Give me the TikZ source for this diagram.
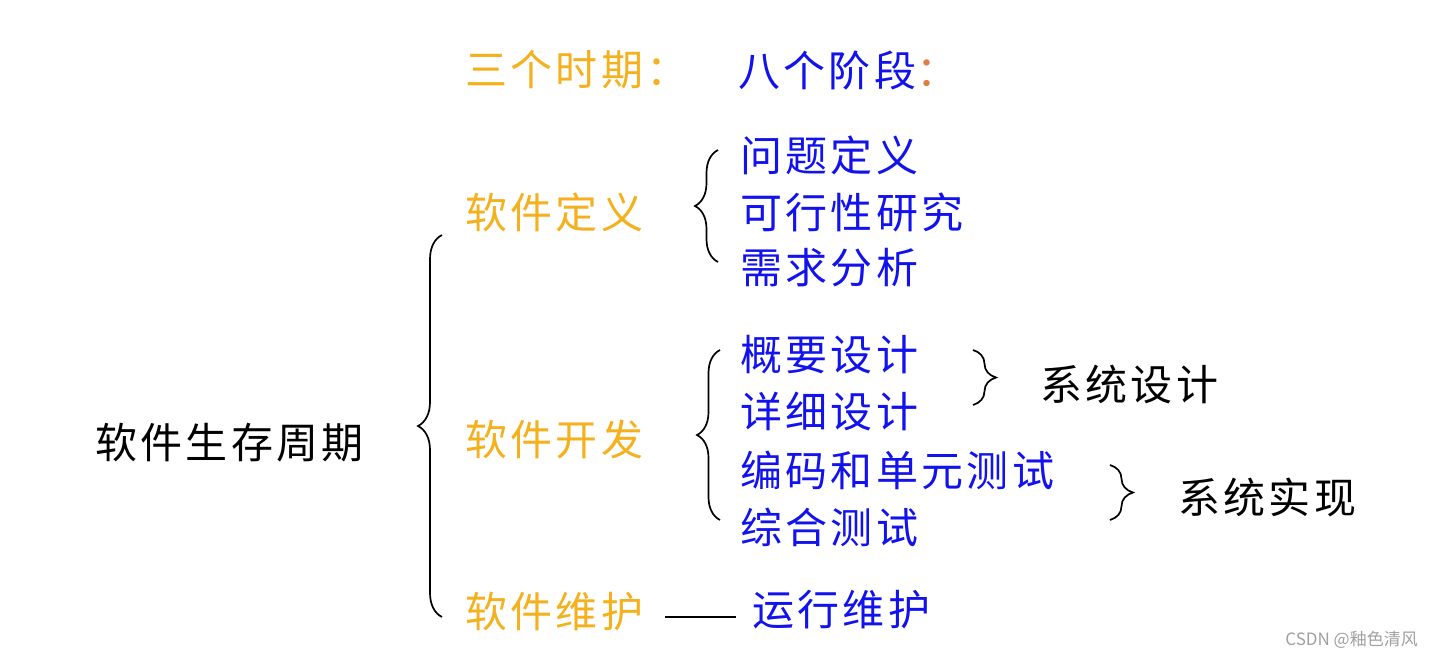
\documentclass[tikz,border=0pt]{standalone}
\usepackage{fontspec}
\setmainfont{Noto Sans CJK SC}
\newfontfamily\cjkwide[LetterSpace=8]{Noto Sans CJK SC}
\usetikzlibrary{decorations.pathreplacing}
\definecolor{qorange}{HTML}{F5B01E}
\definecolor{qblue}{HTML}{1212EE}
\definecolor{qcolon}{HTML}{DE7E45}
\definecolor{qgray}{HTML}{A0A0A0}
\begin{document}
\begin{tikzpicture}[x=1pt,y=-1pt,
  lbl/.style={anchor=west,inner sep=0pt,font=\cjkwide\fontsize{42}{50}\selectfont},
  period/.style={lbl,text=qorange},
  stage/.style={lbl,text=qblue},
  plain/.style={lbl,text=black},
  brc/.style={draw=black,line width=1.7pt,decorate,decoration={brace,amplitude=#1}},
  brc/.default=23pt
]
\useasboundingbox (0,0) rectangle (1434,658);
% headings
\node[period] (sgsq) at (465,70) {三个时期：};
\node[stage] (bgjd) at (738,70) {八个阶段{\color{qcolon}：}};
% root
\node[plain] (root) at (95,443) {软件生存周期};
% periods
\node[period] (rjdy) at (465,212) {软件定义};
\node[period] (rjkf) at (465,440) {软件开发};
\node[period] (rjwh) at (465,612) {软件维护};
% stages
\node[stage] (wtdy) at (740,155) {问题定义};
\node[stage] (kxx)  at (740,212) {可行性研究};
\node[stage] (xqfx) at (740,268) {需求分析};
\node[stage] (gysj) at (740,355) {概要设计};
\node[stage] (xxsj) at (740,412) {详细设计};
\node[stage] (bmcs) at (740,470) {编码和单元测试};
\node[stage] (zhcs) at (740,527) {综合测试};
\node[stage] (yxwh) at (752,610) {运行维护};
% groups
\node[plain] (xtsj) at (1040,385) {系统设计};
\node[plain] (xtsx) at (1178,497) {系统实现};
% braces
\draw[brc=24pt] (442,617) -- (442,235);
\draw[brc] (718,262) -- (718,150);
\draw[brc] (720,520) -- (720,350);
\draw[brc] (973,350) -- (973,405);
\draw[brc] (1110,465) -- (1110,520);
% dash line
\draw[line width=1.6pt] ([shift={(22,5)}]rjwh.east) -- ([shift={(-16,7)}]yxwh.west);
% watermark
\node[anchor=east,inner sep=0pt,text=qgray,font=\fontsize{17}{19}\selectfont] (wm) at (1418,640) {CSDN @釉色清风};
\end{tikzpicture}
\end{document}
